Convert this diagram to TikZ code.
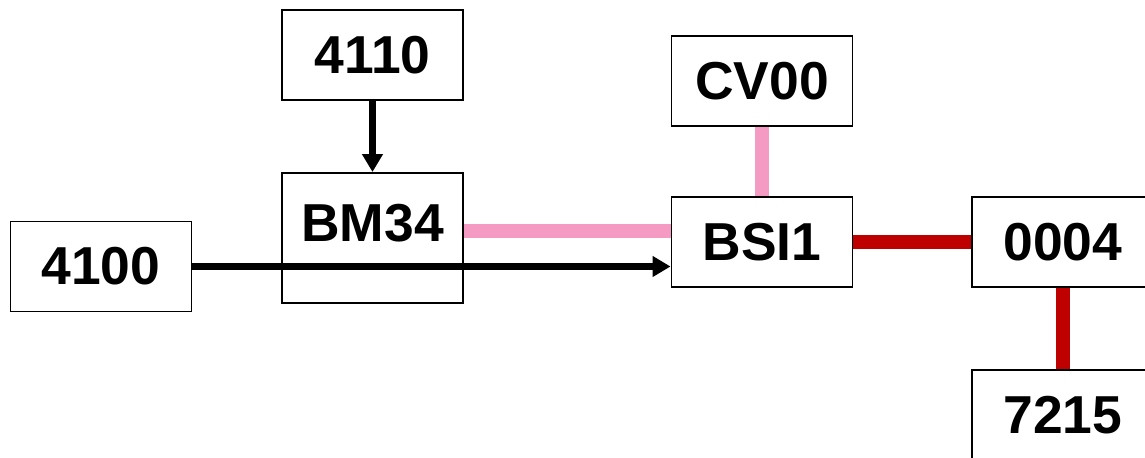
\documentclass[tikz,border=0pt]{standalone}
\usepackage{fontspec}
\setmainfont{Liberation Sans}
\usetikzlibrary{positioning,arrows.meta}
\definecolor{LinkPink}{RGB}{245,155,195}
\definecolor{LinkRed}{RGB}{190,0,0}
\tikzset{
  flow/.style={-{Triangle[length=0.45cm,width=0.5cm]},line width=5pt,draw=black},
  softlink/.style={line width=10.5pt,draw=LinkPink},
  hardlink/.style={line width=10.5pt,draw=LinkRed},
  box/.style={draw=black,fill=white,line width=1.4pt,minimum width=4.525cm,
    minimum height=2.25cm,inner sep=0pt,align=center,
    font=\fontsize{38}{40}\selectfont\bfseries}
}
\begin{document}
\begin{tikzpicture}
  \clip (0,0) rectangle (28.625,11.425);
  \fill[white] (0,0) rectangle (28.625,11.425);
  \node[box] (f4100) at (2.525,4.7625) {4100};
  \node[box,text height=1.725cm,text depth=1.525cm] (bm34) at (9.3125,5.475) {BM34};
  \node[box,above=1.775cm of bm34] (f4110) {4110};
  \node[box] (bsi1) at (19.05,5.375) {BSI1};
  \node[box,above=1.725cm of bsi1] (cv00) {CV00};
  \node[box,right=2.95cm of bsi1] (n0004) {0004};
  \node[box,below=2.025cm of n0004] (n7215) {7215};
  \coordinate (pk) at ([yshift=0.275cm]bsi1.west);
  \draw[softlink] (pk -| bm34.east) -- (pk);
  \draw[softlink] (cv00.south) -- (cv00.south |- bsi1.north);
  \draw[hardlink] (bsi1.east) -- (n0004.west);
  \draw[hardlink] (n0004.south) -- (n7215.north);
  \draw[flow] (f4110) -- (bm34);
  \draw[flow] (f4100) -- (f4100 -| bsi1.west);
\end{tikzpicture}
\end{document}
